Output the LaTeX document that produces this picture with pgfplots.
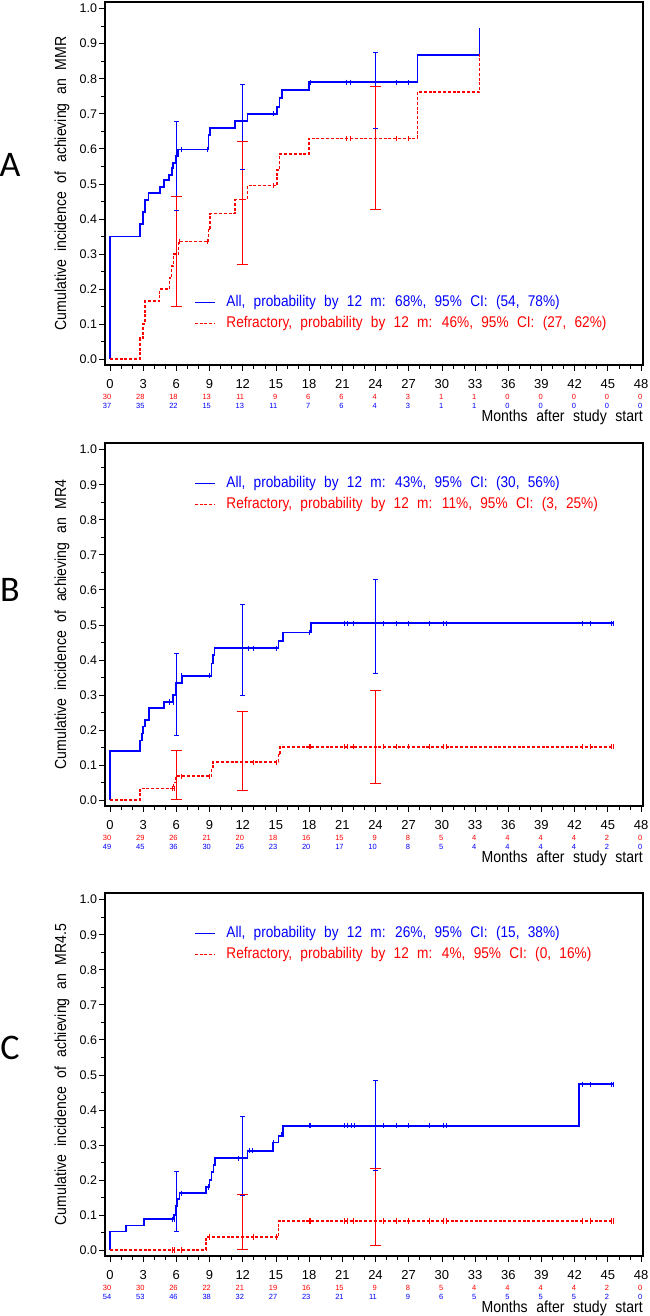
\documentclass[border=0pt]{standalone}
\usepackage{pgfplots}
\usepackage{pgfplotstable}
\pgfplotsset{compat=1.18}
\usepackage{fontspec}
\setmainfont[FakeStretch=0.88,WordSpace=2.2]{Liberation Sans}
\newfontfamily\tickfont{Liberation Sans}
\newfontfamily\letterfont{Carlito}
\definecolor{sasblue}{RGB}{0,0,255}
\definecolor{sasred}{RGB}{255,0,0}

\pgfplotstableread{
x r b
0 30 37
3 28 35
6 18 22
9 13 15
12 11 13
15 9 11
18 6 7
21 6 6
24 4 4
27 3 3
30 1 1
33 1 1
36 0 0
39 0 0
42 0 0
45 0 0
48 0 0
}\riskA
\pgfplotstableread{
x r b
0 30 49
3 29 45
6 26 36
9 21 30
12 20 26
15 18 23
18 16 20
21 15 17
24 9 10
27 8 8
30 5 5
33 4 4
36 4 4
39 4 4
42 4 4
45 2 2
48 0 0
}\riskB
\pgfplotstableread{
x r b
0 30 54
3 30 53
6 26 46
9 22 38
12 21 32
15 19 27
18 16 23
21 15 21
24 9 11
27 8 9
30 5 6
33 4 5
36 4 5
39 4 5
42 4 5
45 2 2
48 0 0
}\riskC

\pgfplotsset{
 kmaxis/.style={
  scale only axis, width=538pt, height=363pt,
  xmin=-0.45, xmax=48.18, ymin=-0.017, ymax=1.019,
  xtick={0,3,6,9,12,15,18,21,24,27,30,33,36,39,42,45,48}, minor x tick num=2,
  ytick={0,0.1,0.2,0.3,0.4,0.5,0.6,0.7,0.8,0.9,1.0}, minor y tick num=1,
  tick align=outside, xtick pos=bottom, ytick pos=left,
  major tick length=5.5pt, minor tick length=3.5pt,
  tick style={black, line width=0.7pt},
  axis line style={black, line width=1.1pt},
  clip=false,
  /pgf/number format/assume math mode=true,
  yticklabel style={/pgf/number format/.cd, fixed, fixed zerofill, precision=1, /tikz/.cd, font=\tickfont\fontsize{12.5}{14}\selectfont, xshift=1pt},
  xticklabel style={font=\tickfont\fontsize{13}{15}\selectfont, yshift=-5.5pt},
  xlabel={Months after study start},
  xlabel style={at={(axis description cs:1,0)}, anchor=east, yshift=-52pt, inner sep=0pt, font=\fontsize{16}{18}\selectfont},
  ylabel style={at={(axis description cs:-0.0799,0.5)}, anchor=center, inner sep=0pt, font=\fontsize{16}{18}\selectfont},
  legend cell align=left,
  legend image code/.code={\draw[##1, line width=1.2pt] (0pt,0pt) -- (20pt,0pt);},
  legend style={draw=none, fill=none, anchor=west, inner sep=0pt, row sep=3pt,
    nodes={inner sep=1pt, text height=12pt, text depth=4pt, font=\fontsize{15.5}{17}\selectfont},
    /tikz/every odd column/.append style={column sep=10pt}},
 },
 allcurve/.style={sasblue, line width=1.8pt, const plot mark left},
 refcurve/.style={sasred, line width=1.5pt, dash pattern=on 3pt off 1.8pt, const plot mark left},
 bluecens/.style={sasblue, only marks, mark=|, mark size=2.6pt, mark options={solid, line width=0.8pt}, forget plot},
 redcens/.style={sasred, only marks, mark=|, mark size=2.6pt, mark options={solid, line width=0.8pt}, forget plot},
 blueci/.style={sasblue, line width=0.7pt, mark=-, mark size=2.5pt, mark options={solid, line width=0.7pt}, unbounded coords=jump, forget plot},
 redci/.style={sasred, line width=0.7pt, mark=-, mark size=5.5pt, mark options={solid, line width=0.7pt}, unbounded coords=jump, forget plot},
 riskred/.style={draw=none, forget plot, nodes near coords, point meta=explicit symbolic,
   every node near coord/.append style={anchor=east, inner sep=0pt, xshift=1.5pt, text=sasred, font=\tickfont\fontsize{7.5}{8}\selectfont}},
 riskblue/.style={draw=none, forget plot, nodes near coords, point meta=explicit symbolic,
   every node near coord/.append style={anchor=east, inner sep=0pt, xshift=1.5pt, text=sasblue, font=\tickfont\fontsize{7.5}{8}\selectfont}},
}

\begin{document}
\begin{tikzpicture}
\useasboundingbox (0pt,0pt) rectangle (649pt,-1316pt);

% ---------------- Panel A ----------------
\begin{axis}[kmaxis, at={(105pt,-2pt)}, anchor=north west,
  ylabel={Cumulative incidence of achieving an MMR},
  legend style={at={(axis cs:7.6,0.132)}}]
\addplot[allcurve] coordinates {(0,0) (0,0.35) (2.70,0.385) (3.0,0.42) (3.18,0.455) (3.48,0.473) (4.49,0.49) (4.87,0.51) (5.36,0.525) (5.58,0.545) (5.73,0.56) (5.99,0.58) (6.18,0.598) (8.91,0.64) (9.06,0.66) (11.31,0.68) (12.43,0.70) (15.09,0.72) (15.32,0.745) (15.54,0.768) (17.98,0.79) (27.79,0.868) (33.4,0.868) (33.4,0.945)};
\addlegendentry{\textcolor{sasblue}{All, probability by 12 m: 68\%, 95\% CI: (54, 78\%)}}
\addplot[refcurve] coordinates {(0,0) (2.70,0.06) (3.0,0.10) (3.18,0.165) (4.49,0.20) (5.36,0.232) (5.58,0.265) (5.73,0.30) (6.18,0.335) (8.91,0.37) (9.06,0.415) (11.31,0.455) (12.43,0.495) (15.09,0.54) (15.32,0.585) (17.98,0.63) (27.79,0.762) (33.4,0.762) (33.4,0.87)};
\addlegendentry{\textcolor{sasred}{Refractory, probability by 12 m: 46\%, 95\% CI: (27, 62\%)}}
\addplot[bluecens] coordinates {(6.48,0.598) (8.8,0.598) (14.8,0.70) (18.1,0.79) (21.4,0.79) (21.7,0.79) (25.9,0.79) (27.0,0.79)};
\addplot[redcens] coordinates {(6.3,0.335) (8.8,0.335) (14.8,0.495) (21.4,0.63) (21.7,0.63) (25.9,0.63) (27.0,0.63)};
\addplot[blueci] coordinates {(6,0.423) (6,0.678) (6,nan) (12,0.54) (12,0.785) (12,nan) (24,0.657) (24,0.875)};
\addplot[redci] coordinates {(6,0.15) (6,0.465) (6,nan) (12,0.27) (12,0.622) (12,nan) (24,0.428) (24,0.777)};
\addplot[riskred] table[x=x, y expr=-0.109, meta=r] {\riskA};
\addplot[riskblue] table[x=x, y expr=-0.134, meta=b] {\riskA};
\node[font=\letterfont\fontsize{36}{40}\selectfont, inner sep=0pt] at (rel axis cs:-0.1766,0.551) {A};
\end{axis}

% ---------------- Panel B ----------------
\begin{axis}[kmaxis, at={(105pt,-443pt)}, anchor=north west,
  ylabel={Cumulative incidence of achieving an MR4},
  legend style={at={(axis cs:7.6,0.874)}}]
\addplot[allcurve] coordinates {(0,0) (0,0.14) (2.70,0.17) (2.88,0.19) (3.0,0.21) (3.18,0.228) (3.56,0.263) (4.87,0.28) (5.73,0.30) (5.99,0.335) (6.48,0.355) (9.18,0.39) (9.29,0.415) (9.44,0.433) (15.24,0.455) (15.66,0.478) (18.2,0.505) (45.5,0.505)};
\addlegendentry{\textcolor{sasblue}{All, probability by 12 m: 43\%, 95\% CI: (30, 56\%)}}
\addplot[refcurve] coordinates {(0,0) (2.70,0.033) (5.73,0.05) (5.99,0.068) (9.18,0.09) (9.29,0.108) (15.24,0.13) (15.35,0.152) (45.5,0.152)};
\addlegendentry{\textcolor{sasred}{Refractory, probability by 12 m: 11\%, 95\% CI: (3, 25\%)}}
\addplot[bluecens] coordinates {(5.4,0.28) (5.7,0.28) (6.5,0.355) (9.0,0.355) (12.5,0.433) (13.0,0.433) (15.0,0.433) (18.0,0.478) (21.2,0.505) (21.5,0.505) (22.0,0.505) (24.7,0.505) (25.9,0.505) (27.0,0.505) (28.9,0.505) (30.1,0.505) (30.4,0.505) (42.7,0.505) (43.4,0.505) (45.3,0.505) (45.5,0.505)};
\addplot[redcens] coordinates {(5.6,0.033) (5.8,0.033) (6.5,0.068) (9.0,0.068) (13.0,0.108) (15.0,0.108) (18.0,0.152) (18.1,0.152) (21.2,0.152) (21.5,0.152) (22.0,0.152) (24.7,0.152) (25.9,0.152) (27.0,0.152) (28.9,0.152) (30.1,0.152) (30.4,0.152) (42.7,0.152) (43.4,0.152) (45.3,0.152) (45.5,0.152)};
\addplot[blueci] coordinates {(6,0.185) (6,0.42) (6,nan) (12,0.30) (12,0.558) (12,nan) (24,0.362) (24,0.63)};
\addplot[redci] coordinates {(6,0.003) (6,0.143) (6,nan) (12,0.027) (12,0.254) (12,nan) (24,0.047) (24,0.312)};
\addplot[riskred] table[x=x, y expr=-0.109, meta=r] {\riskB};
\addplot[riskblue] table[x=x, y expr=-0.134, meta=b] {\riskB};
\node[font=\letterfont\fontsize{36}{40}\selectfont, inner sep=0pt] at (rel axis cs:-0.1766,0.595) {B};
\end{axis}

% ---------------- Panel C ----------------
\begin{axis}[kmaxis, at={(105pt,-893pt)}, anchor=north west,
  ylabel={Cumulative incidence of achieving an MR4.5},
  legend style={at={(axis cs:7.6,0.873)}}]
\addplot[allcurve] coordinates {(0,0) (0,0.053) (1.42,0.07) (3.07,0.088) (5.81,0.10) (5.99,0.125) (6.1,0.145) (6.29,0.162) (8.69,0.18) (8.99,0.20) (9.18,0.222) (9.36,0.243) (9.48,0.262) (12.43,0.283) (14.72,0.307) (15.24,0.325) (15.66,0.355) (42.4,0.473) (45.5,0.473)};
\addlegendentry{\textcolor{sasblue}{All, probability by 12 m: 26\%, 95\% CI: (15, 38\%)}}
\addplot[refcurve] coordinates {(0,0) (8.69,0.037) (15.24,0.083) (45.5,0.083)};
\addlegendentry{\textcolor{sasred}{Refractory, probability by 12 m: 4\%, 95\% CI: (0, 16\%)}}
\addplot[bluecens] coordinates {(5.6,0.088) (5.8,0.088) (6.5,0.162) (8.9,0.18) (11.6,0.262) (12.6,0.283) (12.9,0.283) (14.8,0.307) (15.5,0.33) (18.0,0.355) (18.1,0.355) (21.2,0.355) (21.5,0.355) (21.8,0.355) (22.1,0.355) (24.7,0.355) (25.9,0.355) (27.0,0.355) (28.9,0.355) (30.1,0.355) (30.4,0.355) (42.7,0.473) (43.4,0.473) (45.3,0.473) (45.5,0.473)};
\addplot[redcens] coordinates {(5.6,0) (5.8,0) (6.5,0) (9.0,0.037) (13.0,0.037) (15.0,0.037) (18.0,0.083) (18.1,0.083) (21.2,0.083) (21.5,0.083) (22.0,0.083) (24.7,0.083) (25.9,0.083) (27.0,0.083) (28.9,0.083) (30.1,0.083) (30.4,0.083) (42.7,0.083) (43.4,0.083) (45.3,0.083) (45.5,0.083)};
\addplot[blueci] coordinates {(6,0.053) (6,0.225) (6,nan) (12,0.155) (12,0.383) (12,nan) (24,0.227) (24,0.485)};
\addplot[redci] coordinates {(12,0.003) (12,0.158) (12,nan) (24,0.013) (24,0.232)};
\addplot[riskred] table[x=x, y expr=-0.109, meta=r] {\riskC};
\addplot[riskblue] table[x=x, y expr=-0.134, meta=b] {\riskC};
\node[font=\letterfont\fontsize{36}{40}\selectfont, inner sep=0pt] at (rel axis cs:-0.1766,0.573) {C};
\end{axis}
\end{tikzpicture}
\end{document}
